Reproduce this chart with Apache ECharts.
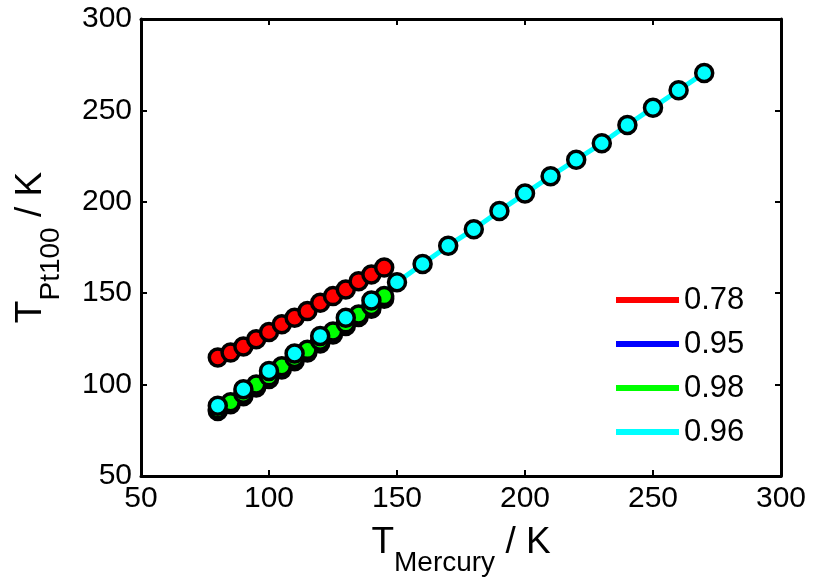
<!DOCTYPE html>
<html lang="en">
<head>
    <meta charset="UTF-8">
    <title>T Pt100 vs T Mercury</title>
    <script src="https://cdn.jsdelivr.net/npm/echarts@6/dist/echarts.min.js"></script>
    <style>
        html, body { margin: 0; padding: 0; background: #fff; }
        #chart { width: 816px; height: 582px; }
    </style>
</head>
<body>
    <div id="chart"></div>
    <script>
        // x values (T Mercury / K)
        var xShort = [80, 85, 90, 95, 100, 105, 110, 115, 120, 125, 130, 135, 140, 145];
        var xLong = [80, 90, 100, 110, 120, 130, 140, 150, 160, 170, 180, 190, 200, 210, 220, 230, 240, 250, 260, 270];

        // y values (T Pt100 / K) per series
        var y078 = [114.8, 117.5, 120.8, 124.8, 128.8, 133, 136.6, 140.2, 144.8, 148.4, 152, 156.6, 160.2, 164];
        var y095 = [85.5, 89.2, 93.6, 98.4, 103, 108.2, 112.8, 117.5, 122.5, 127.4, 132, 137, 141.5, 147];
        var y098 = [86.5, 90.4, 95, 100, 104.5, 110, 114.5, 119, 124, 129, 133.5, 138.4, 143, 148.4];
        var y096 = [88.4, 97.5, 107.5, 117, 126.6, 136.6, 146, 156, 166, 176, 185, 195, 204.5, 214, 223, 232, 242, 251.5, 261, 270.5];

        var names = ['0.78', '0.95', '0.98', '0.96'];
        var colors = ['#ff0000', '#0000ff', '#00ff00', '#00ffff'];

        function pairs(xs, ys) {
            var out = [];
            for (var i = 0; i < xs.length; i++) out.push([xs[i], ys[i]]);
            return out;
        }

        var seriesData = [pairs(xShort, y078), pairs(xShort, y095), pairs(xShort, y098), pairs(xLong, y096)];

        var font = '"Liberation Sans", Arial, sans-serif';

        var myChart = echarts.init(document.getElementById('chart'));

        var baseAxis = {
            type: 'value',
            min: 50,
            max: 300,
            interval: 50,
            splitLine: { show: false },
            axisLine: { show: true, lineStyle: { color: '#000', width: 3 } },
            axisTick: { show: true, inside: true, length: 6, lineStyle: { color: '#000', width: 2 } }
        };

        // rich styles for "T_sub / K" titles
        function titleRich(subPad) {
            return {
                t: { fontFamily: font, fontSize: 37, color: '#000', verticalAlign: 'top', lineHeight: 40 },
                s: { fontFamily: font, fontSize: 28, color: '#000', verticalAlign: 'top', padding: [subPad, 0, 0, 0], lineHeight: 32 }
            };
        }

        var series = [];
        for (var i = 0; i < 4; i++) {
            series.push({
                name: names[i],
                type: 'line',
                data: seriesData[i],
                symbol: 'circle',
                symbolSize: 17,
                lineStyle: { color: colors[i], width: 5 },
                itemStyle: { color: colors[i], borderColor: '#000', borderWidth: 3.5 },
                emphasis: { disabled: true },
                animation: false
            });
        }

        var option = {
            animation: false,
            grid: { left: 141, right: 35, top: 19, bottom: 105, containLabel: false },
            legend: {
                data: names,
                orient: 'vertical',
                left: 611,
                top: 279,
                icon: 'rect',
                itemWidth: 63,
                itemHeight: 6,
                itemGap: 12,
                itemStyle: { borderWidth: 0 },
                textStyle: { fontFamily: font, fontSize: 31, color: '#000', lineHeight: 32 }
            },
            xAxis: [
                Object.assign({}, baseAxis, {
                    position: 'bottom',
                    name: '{t|T}{s|Mercury}{t| / K}',
                    nameLocation: 'middle',
                    nameGap: 48,
                    nameTextStyle: { rich: titleRich(25) },
                    axisLabel: { fontFamily: font, fontSize: 30, color: '#000', margin: 8 }
                }),
                Object.assign({}, baseAxis, {
                    position: 'top',
                    axisLabel: { show: false }
                })
            ],
            yAxis: [
                Object.assign({}, baseAxis, {
                    position: 'left',
                    name: '{t|T}{s|Pt100}{t| / K}',
                    nameLocation: 'middle',
                    nameGap: 89,
                    nameTextStyle: { rich: titleRich(25) },
                    axisLabel: { fontFamily: font, fontSize: 30, color: '#000', margin: 9 }
                }),
                Object.assign({}, baseAxis, {
                    position: 'right',
                    axisLabel: { show: false }
                })
            ],
            series: series
        };

        myChart.setOption(option);
    </script>
</body>
</html>
